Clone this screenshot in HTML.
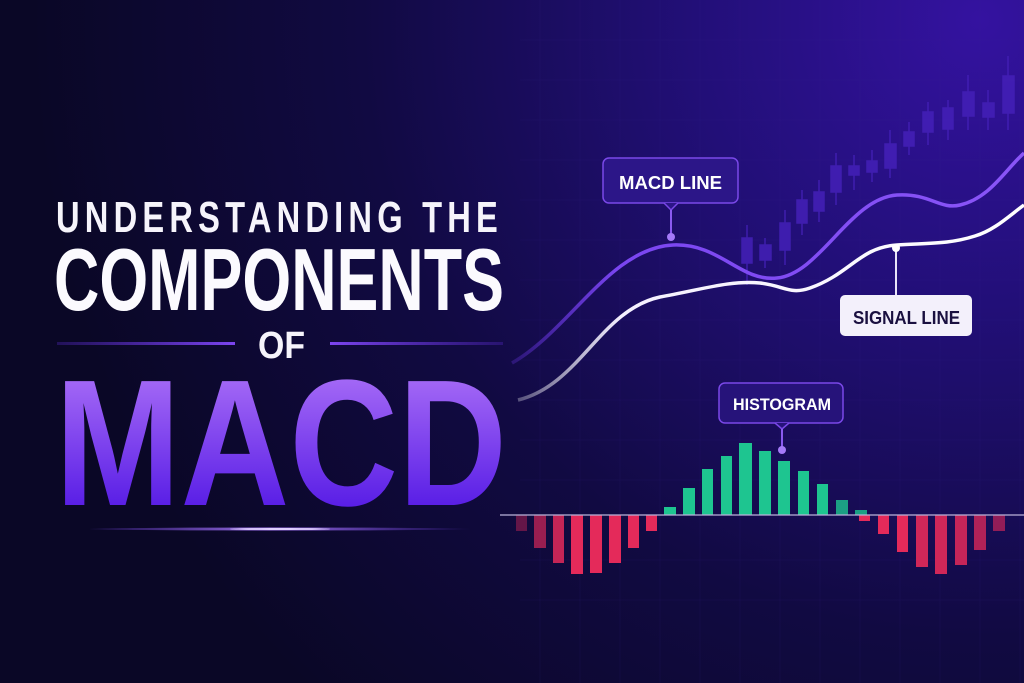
<!DOCTYPE html>
<html><head><meta charset="utf-8"><style>
html,body{margin:0;padding:0;background:#0b0828;}
svg{display:block}
text{font-family:"Liberation Sans",sans-serif;font-weight:bold}
</style></head><body>
<svg width="1024" height="683" viewBox="0 0 1024 683" xmlns="http://www.w3.org/2000/svg">
<defs>
<radialGradient id="bg" cx="980" cy="20" r="950" gradientUnits="userSpaceOnUse">
<stop offset="0" stop-color="#3412a0"/><stop offset="0.3" stop-color="#220f78"/><stop offset="0.65" stop-color="#110a42"/><stop offset="1" stop-color="#0a0726"/>
</radialGradient>
<linearGradient id="macd" x1="0" y1="375" x2="0" y2="505" gradientUnits="userSpaceOnUse">
<stop offset="0" stop-color="#a56af6"/><stop offset="1" stop-color="#5a1fe6"/>
</linearGradient>
<linearGradient id="pl" x1="515" y1="0" x2="1024" y2="0" gradientUnits="userSpaceOnUse">
<stop offset="0" stop-color="#6a35e8" stop-opacity="0.3"/><stop offset="0.2" stop-color="#7a45f0"/><stop offset="1" stop-color="#8a55f8"/>
</linearGradient>
<linearGradient id="wl" x1="520" y1="0" x2="1024" y2="0" gradientUnits="userSpaceOnUse">
<stop offset="0" stop-color="#ffffff" stop-opacity="0.3"/><stop offset="0.2" stop-color="#f4f0ff"/><stop offset="1" stop-color="#ffffff"/>
</linearGradient>
<linearGradient id="glow" x1="60" y1="0" x2="480" y2="0" gradientUnits="userSpaceOnUse">
<stop offset="0" stop-color="#7a40ff" stop-opacity="0"/><stop offset="0.5" stop-color="#b080ff"/><stop offset="1" stop-color="#7a40ff" stop-opacity="0"/>
</linearGradient>
<linearGradient id="rl" x1="57" y1="0" x2="235" y2="0" gradientUnits="userSpaceOnUse">
<stop offset="0" stop-color="#5a2ad0" stop-opacity="0.3"/><stop offset="1" stop-color="#7c45f0"/>
</linearGradient>
<linearGradient id="rr" x1="330" y1="0" x2="503" y2="0" gradientUnits="userSpaceOnUse">
<stop offset="0" stop-color="#7c45f0"/><stop offset="1" stop-color="#5a2ad0" stop-opacity="0.3"/>
</linearGradient>
</defs>
<rect width="1024" height="683" fill="url(#bg)"/>
<g stroke="#3a2a90" stroke-opacity="0.1" stroke-width="1">
<path d="M540 0V683M580 0V683M620 0V683M660 0V683M700 0V683M740 0V683M780 0V683M820 0V683M860 0V683M900 0V683M940 0V683M980 0V683M1020 0V683"/>
<path d="M520 40H1024M520 80H1024M520 120H1024M520 160H1024M520 200H1024M520 240H1024M520 280H1024M520 320H1024M520 360H1024M520 400H1024M520 440H1024M520 480H1024M520 560H1024M520 600H1024"/>
</g>
<!-- candles -->
<g fill="#4420b8" stroke="#4420b8" stroke-width="1.5" opacity="0.85">
<path d="M747 225V285M765 238V268M785 210V265M802 190V235M819 180V222M836 153V205M854 155V190M872 150V182M890 130V178M909 122V155M928 102V145M948 100V140M968 75V130M988 90V130M1008 56V130" fill="none"/>
<rect x="742" y="238" width="10" height="25"/><rect x="760" y="245" width="11" height="15"/><rect x="780" y="223" width="10" height="27"/>
<rect x="797" y="200" width="10" height="23"/><rect x="814" y="192" width="10" height="19"/><rect x="831" y="166" width="10" height="26"/>
<rect x="849" y="166" width="10" height="9"/><rect x="867" y="161" width="10" height="11"/><rect x="885" y="144" width="11" height="24"/>
<rect x="904" y="132" width="10" height="14"/><rect x="923" y="112" width="10" height="20"/><rect x="943" y="108" width="10" height="21"/>
<rect x="963" y="92" width="11" height="24"/><rect x="983" y="103" width="11" height="14"/><rect x="1003" y="76" width="11" height="37"/>
</g>
<!-- lines -->
<path d="M512 363 C570 330 610 248 673 245 C720 243 740 282 777 278 C820 274 850 198 897 195 C930 193 940 210 960 205 C990 198 1005 170 1024 153" fill="none" stroke="url(#pl)" stroke-width="3.5"/>
<path d="M518 400 C580 385 600 310 660 297 C700 290 730 280 760 283 C785 286 790 295 810 288 C850 274 860 247 897 245 C930 243 950 244 975 236 C995 230 1010 215 1024 205" fill="none" stroke="url(#wl)" stroke-width="3.5"/>
<!-- MACD label -->
<rect x="603" y="158" width="135" height="45" rx="6" fill="#2c1688" stroke="#7a48e8" stroke-width="1.5"/>
<path d="M664 203 L671 210 L678 203" fill="#2c1688" stroke="#7a48e8" stroke-width="1.5"/>
<line x1="671" y1="210" x2="671" y2="236" stroke="#8a5af0" stroke-width="2"/>
<circle cx="671" cy="237" r="4" fill="#a57af8"/>
<text x="619" y="189" font-size="18" fill="#fff" textLength="103" lengthAdjust="spacingAndGlyphs">MACD LINE</text>
<!-- Signal label -->
<line x1="896" y1="248" x2="896" y2="295" stroke="#e8e4f8" stroke-width="2"/>
<circle cx="896" cy="248" r="4" fill="#fff"/>
<rect x="840" y="295" width="132" height="41" rx="5" fill="#f3f0fb"/>
<text x="853" y="324" font-size="18" fill="#1a1040" textLength="107" lengthAdjust="spacingAndGlyphs">SIGNAL LINE</text>
<!-- Histogram label -->
<rect x="719" y="383" width="124" height="40" rx="6" fill="#26137a" stroke="#7a48e8" stroke-width="1.5"/>
<path d="M775 423 L782 429 L789 423" fill="#26137a" stroke="#7a48e8" stroke-width="1.5"/>
<line x1="782" y1="429" x2="782" y2="449" stroke="#8a5af0" stroke-width="2"/>
<circle cx="782" cy="450" r="4" fill="#a57af8"/>
<text x="733" y="410" font-size="17" fill="#fff" textLength="98" lengthAdjust="spacingAndGlyphs">HISTOGRAM</text>
<!-- histogram -->
<g fill="#1ec590">
<rect x="664" y="507" width="12" height="8"/><rect x="683" y="488" width="12" height="27"/><rect x="702" y="469" width="11" height="46"/>
<rect x="721" y="456" width="11" height="59"/><rect x="739" y="443" width="13" height="72"/><rect x="759" y="451" width="12" height="64"/>
<rect x="778" y="461" width="12" height="54"/><rect x="798" y="471" width="11" height="44"/><rect x="817" y="484" width="11" height="31"/>
<rect x="836" y="500" width="12" height="15" opacity="0.8"/><rect x="855" y="510" width="12" height="5" opacity="0.8"/>
</g>
<g fill="#e42a5a">
<rect x="516" y="515" width="11" height="16" opacity="0.4"/><rect x="534" y="515" width="12" height="33" opacity="0.65"/><rect x="553" y="515" width="11" height="48" opacity="0.85"/>
<rect x="571" y="515" width="12" height="59"/><rect x="590" y="515" width="12" height="58"/><rect x="609" y="515" width="12" height="48"/>
<rect x="628" y="515" width="11" height="33"/><rect x="646" y="515" width="11" height="16"/>
<rect x="859" y="515" width="11" height="6"/><rect x="878" y="515" width="11" height="19"/><rect x="897" y="515" width="11" height="37"/>
<rect x="916" y="515" width="12" height="52" opacity="0.9"/><rect x="935" y="515" width="12" height="59" opacity="0.9"/><rect x="955" y="515" width="12" height="50" opacity="0.85"/>
<rect x="974" y="515" width="12" height="35" opacity="0.75"/><rect x="993" y="515" width="12" height="16" opacity="0.6"/>
</g>
<line x1="500" y1="515" x2="1024" y2="515" stroke="#b8b0d8" stroke-width="1.5" opacity="0.85"/>
<!-- title -->
<text x="56" y="232" font-size="44" fill="#f6f4fb" textLength="447" lengthAdjust="spacingAndGlyphs" style="letter-spacing:7px">UNDERSTANDING THE</text>
<text x="54" y="310" font-size="88" fill="#fbfafe" textLength="450" lengthAdjust="spacingAndGlyphs">COMPONENTS</text>
<rect x="57" y="342" width="178" height="3" fill="url(#rl)"/>
<rect x="330" y="342" width="173" height="3" fill="url(#rr)"/>
<text x="258" y="358" font-size="38" fill="#f6f4fb" textLength="47" lengthAdjust="spacingAndGlyphs">OF</text>
<text x="55" y="505" font-size="180" fill="url(#macd)" textLength="452" lengthAdjust="spacingAndGlyphs">MACD</text>
<ellipse cx="280" cy="529" rx="190" ry="1.5" fill="url(#glow)" opacity="0.9"/>
<ellipse cx="280" cy="529" rx="50" ry="1" fill="#e0d0ff"/>
</svg>
</body></html>
